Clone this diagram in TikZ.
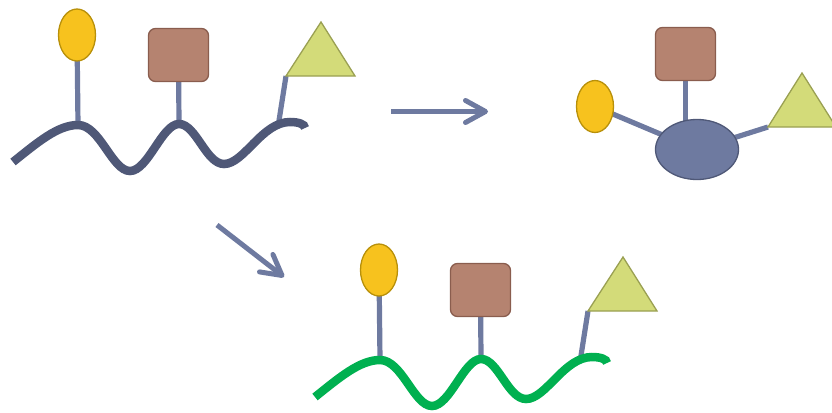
\documentclass[tikz,border=0pt]{standalone}
\usetikzlibrary{shapes.geometric,arrows.meta}
\pgfdeclarelayer{bg}
\pgfsetlayers{bg,main}
\definecolor{ylwfill}{HTML}{F7C21E}
\definecolor{ylwline}{HTML}{B8900A}
\definecolor{brnfill}{HTML}{B58370}
\definecolor{brnline}{HTML}{8A5D4E}
\definecolor{trifill}{HTML}{D3DB79}
\definecolor{triline}{HTML}{9AA052}
\definecolor{stickc}{HTML}{6E7AA0}
\definecolor{wavec}{HTML}{4F5877}
\definecolor{greenc}{HTML}{00B050}
\tikzset{
 yball/.style={ellipse, draw=ylwline, fill=ylwfill, line width=1.3pt, minimum width=37pt, minimum height=52pt, inner sep=0pt},
 bsquare/.style={rectangle, rounded corners=7pt, draw=brnline, fill=brnfill, line width=1.3pt, minimum width=60pt, minimum height=53pt, inner sep=0pt},
 tri/.style={draw=triline, fill=trifill, line width=1.3pt},
 stick/.style={draw=stickc, line width=5.2pt},
 wave/.style={line width=8.5pt},
 arr/.style={draw=stickc, line width=5pt, -{Straight Barb[length=20pt,width=22pt,line cap=round,line join=round]}},
 core/.style={ellipse, draw=wavec, fill=stickc, line width=1.3pt, minimum width=83pt, minimum height=60pt, inner sep=0pt}
}
\newcommand\sugarChain[1]{%
  \node[yball] (ball) at (77,35) {};
  \node[bsquare] (box) at (178.5,55) {};
  \coordinate (tl) at (286,76);
  \coordinate (ta) at (321,22);
  \coordinate (tr) at (355,76);
  \draw[tri] (tl) -- (ta) -- (tr) -- cycle;
  \coordinate (p1) at (78,125);
  \coordinate (p2) at (179,124);
  \coordinate (p3) at (278,127);
  \begin{pgfonlayer}{bg}
    \draw[stick] (ball.center) -- (p1);
    \draw[stick] (box.center) -- (p2);
    \draw[stick] (tl) -- (p3);
  \end{pgfonlayer}
  \draw[wave, draw=#1] (13,162) .. controls (38,142) and (58,125) .. (p1)
     .. controls (100,125) and (112,171) .. (130,171)
     .. controls (148,171) and (162,124) .. (p2)
     .. controls (196,124) and (206,164) .. (224,164)
     .. controls (244,164) and (262,122) .. (290,122)
     .. controls (298,122) and (305,124) .. (305,128);
}
\begin{document}
\begin{tikzpicture}[x=1pt,y=-1pt]
\useasboundingbox (0,0) rectangle (832,412);
% top-left chain
\begin{scope}[name prefix=a-]
  \sugarChain{wavec}
\end{scope}
% bottom chain
\begin{scope}[shift={(302,235)}, name prefix=b-]
  \sugarChain{greenc}
\end{scope}
% top-right cluster
\node[yball] (ball2) at (595,106.5) {};
\node[bsquare] (box2) at (685.5,54) {};
\node[core] (core) at (697,149.5) {};
\coordinate (t2l) at (768,127);
\coordinate (t2a) at (802,73);
\coordinate (t2r) at (836,127);
\draw[tri] (t2l) -- (t2a) -- (t2r) -- cycle;
\begin{pgfonlayer}{bg}
  \draw[stick] (ball2.center) -- (core.center);
  \draw[stick] (box2.center) -- (box2.center |- core.center);
  \draw[stick] (t2l) -- (core.center);
\end{pgfonlayer}
% arrows
\coordinate (r1) at (391,111.5);
\coordinate (r2) at (488,111.5);
\draw[arr] (r1) -- (r2);
\coordinate (d1) at (217,225);
\coordinate (d2) at (284,277);
\draw[arr] (d1) -- (d2);
\end{tikzpicture}
\end{document}
